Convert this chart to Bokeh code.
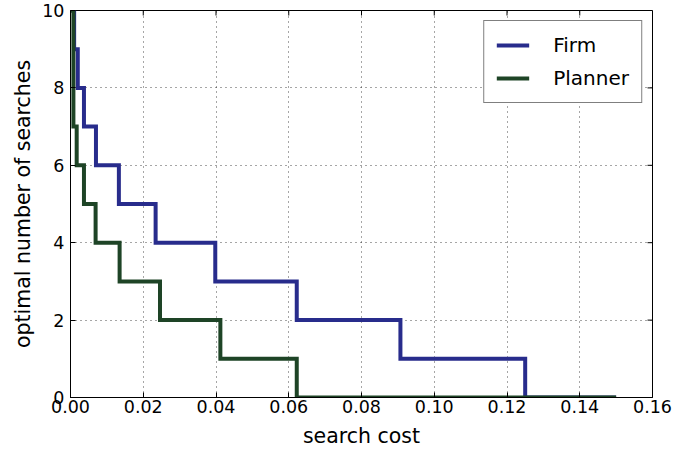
import math
from bokeh.plotting import figure
from bokeh.models import FixedTicker, PrintfTickFormatter, Range1d, Legend, LegendItem
from bokeh.embed import file_html
from bokeh.resources import INLINE

# --- data ---
firm_cost = [0.0, 0.001, 0.002, 0.0037, 0.007, 0.0133, 0.0234, 0.0398, 0.0622, 0.0907, 0.125, 0.15]
firm_searches = [10, 9, 8, 7, 6, 5, 4, 3, 2, 1, 0, 0]

planner_cost = [0.0, 0.0008, 0.0017, 0.0037, 0.0069, 0.0135, 0.0246, 0.0412, 0.0622, 0.15]
planner_searches = [10, 7, 6, 5, 4, 3, 2, 1, 0, 0]

x_ticks = [0.0, 0.02, 0.04, 0.06, 0.08, 0.10, 0.12, 0.14, 0.16]
y_ticks = [0, 2, 4, 6, 8, 10]
x_min, x_max = 0.0, 0.16
y_min, y_max = 0, 10

FONT = "DejaVu Sans"
BLUE = "#282c8c"
GREEN = "#1e4426"

p = figure(width=675, height=450, output_backend="svg", toolbar_location=None,
           x_range=Range1d(x_min, x_max), y_range=Range1d(y_min, y_max),
           min_border_left=70, min_border_right=23, min_border_top=10, min_border_bottom=52)

p.outline_line_color = "black"
p.outline_line_width = 1
p.background_fill_color = "white"
p.border_fill_color = "white"

r1 = p.step(firm_cost, firm_searches, mode="after", line_width=4, line_color=BLUE, line_join="miter")
r2 = p.step(planner_cost, planner_searches, mode="after", line_width=4, line_color=GREEN, line_join="miter")

for ax in (p.xaxis[0], p.yaxis[0]):
    ax.major_tick_in = 5
    ax.major_tick_out = 0
    ax.minor_tick_line_color = None
    ax.axis_line_color = "black"
    ax.major_label_text_font = FONT
    ax.major_label_text_font_size = "17.5px"
    ax.major_label_text_color = "black"
    ax.axis_label_text_font = FONT
    ax.axis_label_text_font_size = "20.5px"
    ax.axis_label_text_font_style = "normal"
    ax.axis_label_text_color = "black"

p.xaxis[0].ticker = FixedTicker(ticks=x_ticks)
p.xaxis[0].formatter = PrintfTickFormatter(format="%.2f")
p.xaxis[0].axis_label = "search cost"
p.xaxis[0].major_label_standoff = 2
p.xaxis[0].axis_label_standoff = 8

p.yaxis[0].ticker = FixedTicker(ticks=y_ticks)
p.yaxis[0].axis_label = "optimal number of searches"
p.yaxis[0].major_label_standoff = 6
p.yaxis[0].axis_label_standoff = 4

# inward ticks on the top and right edges (matplotlib classic style)
p.ray(x=x_ticks, y=[y_max] * len(x_ticks), length=5, length_units="screen",
      angle=-math.pi / 2, line_color="black", line_width=1)
p.ray(x=[x_max] * len(y_ticks), y=y_ticks, length=5, length_units="screen",
      angle=math.pi, line_color="black", line_width=1)

p.xgrid.ticker = FixedTicker(ticks=x_ticks)
p.ygrid.ticker = FixedTicker(ticks=y_ticks)
for g in (p.xgrid[0], p.ygrid[0]):
    g.grid_line_color = "black"
    g.grid_line_alpha = 0.7
    g.grid_line_dash = "1 4"
    g.grid_line_width = 1

legend = Legend(items=[LegendItem(label="Firm", renderers=[r1]),
                       LegendItem(label="Planner", renderers=[r2])],
                location="top_right")
legend.label_text_font = FONT
legend.label_text_font_size = "20px"
legend.label_text_color = "black"
legend.label_height = 24
legend.glyph_height = 24
legend.border_line_color = "black"
legend.border_line_width = 1
legend.background_fill_color = "white"
legend.background_fill_alpha = 1.0
legend.glyph_width = 33
legend.label_standoff = 24
legend.padding = 12
legend.spacing = 9
legend.margin = 10
p.add_layout(legend)

open("out.html", "w").write(file_html(p, INLINE))
